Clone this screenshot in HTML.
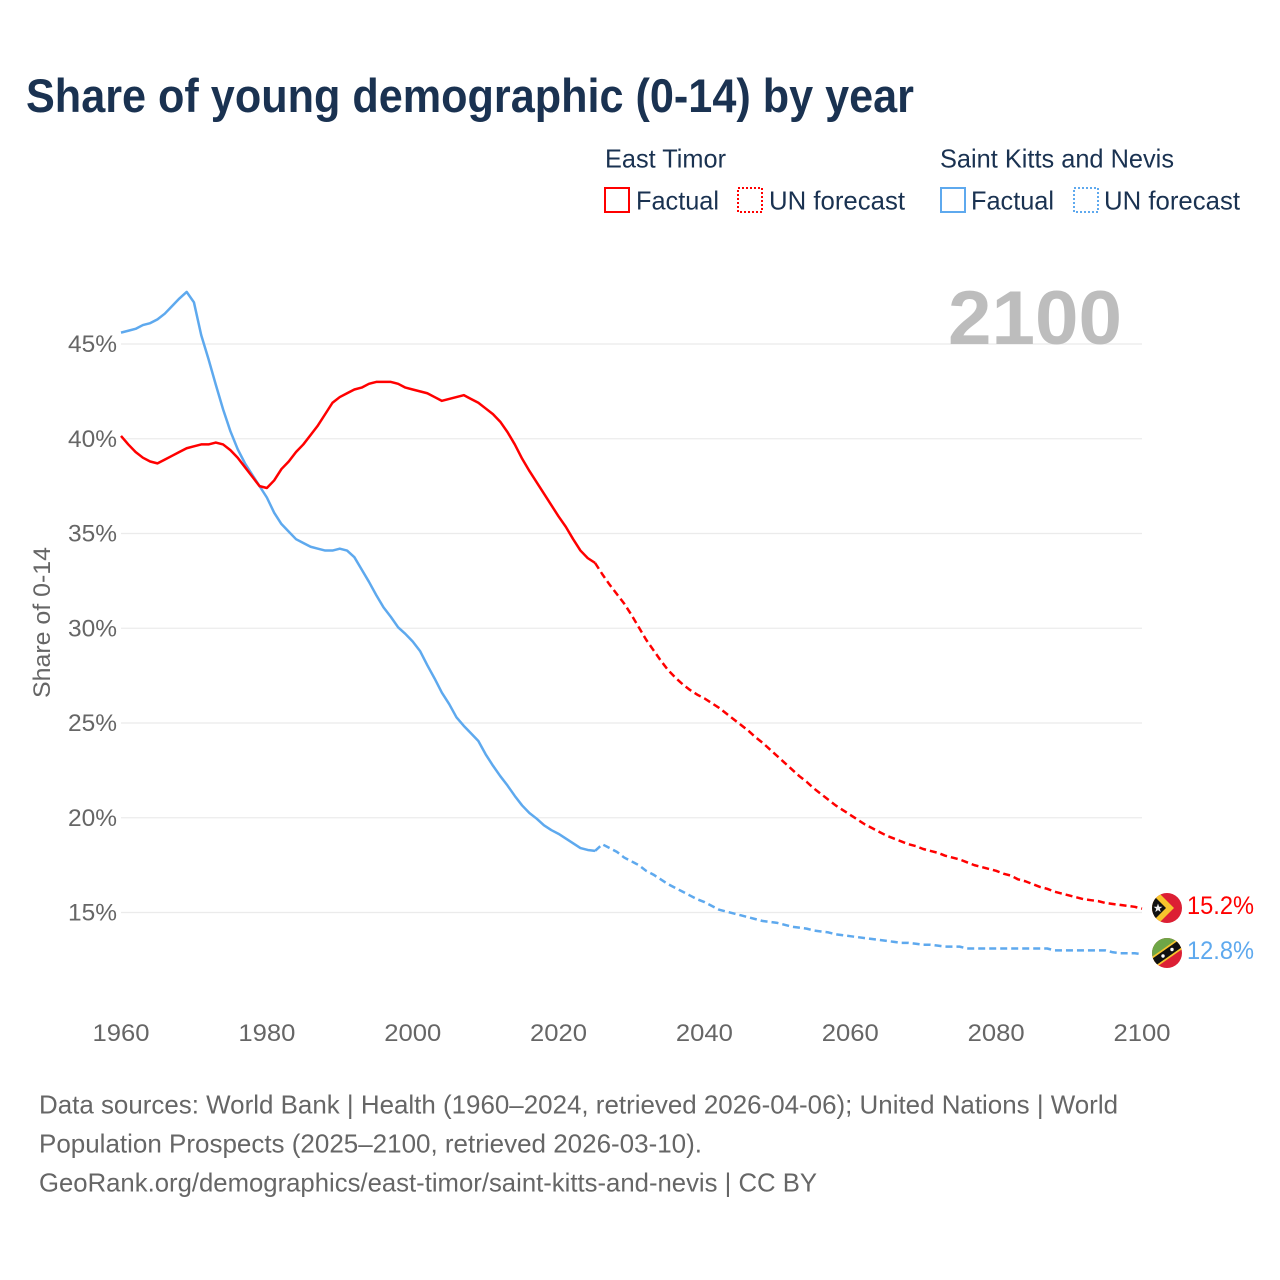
<!DOCTYPE html>
<html lang="en">
<head>
<meta charset="utf-8">
<title>Share of young demographic (0-14) by year</title>
<style>
html,body{margin:0;padding:0;background:#fff;width:1280px;height:1280px;overflow:hidden}
svg{display:block}
text{font-family:"Liberation Sans",sans-serif}
</style>
</head>
<body>
<svg id="chart" xmlns="http://www.w3.org/2000/svg" width="1280" height="1280" viewBox="0 0 1280 1280">
  <defs>
    <clipPath id="flag-clip-tl"><circle cx="1167" cy="908" r="15"/></clipPath>
    <clipPath id="flag-clip-kn"><circle cx="1167" cy="953" r="15"/></clipPath>
  </defs>
  <rect width="1280" height="1280" fill="#fff"/>
  <text x="26" y="112" font-size="47" font-weight="700" fill="#1a3251" textLength="888" lengthAdjust="spacingAndGlyphs">Share of young demographic (0-14) by year</text>

  <g font-size="26" fill="#1a3251">
    <text x="605" y="167.5" textLength="121" lengthAdjust="spacingAndGlyphs">East Timor</text>
    <text x="940" y="167.5" textLength="234" lengthAdjust="spacingAndGlyphs">Saint Kitts and Nevis</text>
    <rect x="605" y="188" width="24" height="24" fill="none" stroke="#f00" stroke-width="2"/>
    <text x="636" y="209.5" textLength="83" lengthAdjust="spacingAndGlyphs">Factual</text>
    <rect x="738" y="188" width="24" height="24" fill="none" stroke="#f00" stroke-width="2" stroke-dasharray="2 2"/>
    <text x="769" y="209.5" textLength="136" lengthAdjust="spacingAndGlyphs">UN forecast</text>
    <rect x="941" y="188" width="24" height="24" fill="none" stroke="#5ea9ee" stroke-width="2"/>
    <text x="971" y="209.5" textLength="83" lengthAdjust="spacingAndGlyphs">Factual</text>
    <rect x="1074" y="188" width="24" height="24" fill="none" stroke="#5ea9ee" stroke-width="2" stroke-dasharray="2 2"/>
    <text x="1104" y="209.5" textLength="136" lengthAdjust="spacingAndGlyphs">UN forecast</text>
  </g>

  <g id="grid"></g>
  <text x="948" y="344" font-size="76" font-weight="700" fill="#bdbdbd" textLength="174" lengthAdjust="spacingAndGlyphs">2100</text>
  <g id="y-axis" font-size="24" fill="#666"></g>
  <g id="x-axis" font-size="24" fill="#666"></g>
  <text transform="translate(50,698) rotate(-90)" font-size="24" fill="#666" textLength="151" lengthAdjust="spacingAndGlyphs">Share of 0-14</text>
  <g id="series"></g>

  <g clip-path="url(#flag-clip-tl)">
    <rect x="1152" y="893" width="30" height="30" fill="#dc1f34"/>
    <path d="M1150 884 L1174 908 L1150 932 Z" fill="#f7c52d"/>
    <path d="M1150 892 L1166 908 L1150 924 Z" fill="#111"/>
    <path d="M1158 903.5 L1159.1 906.7 L1162.4 906.8 L1159.8 908.8 L1160.7 912 L1158 910.1 L1155.3 912 L1156.2 908.8 L1153.6 906.8 L1156.9 906.7 Z" fill="#eee"/>
  </g>
  <g clip-path="url(#flag-clip-kn)">
    <rect x="1152" y="938" width="30" height="30" fill="#dc1f34"/>
    <path d="M1147 967 L1187 939 L1187 930 L1147 930 Z" fill="#6ea647"/>
    <line x1="1147" y1="967" x2="1187" y2="939" stroke="#f7c52d" stroke-width="11"/>
    <line x1="1147" y1="967" x2="1187" y2="939" stroke="#111" stroke-width="7.5"/>
    <circle cx="1163" cy="956" r="1.7" fill="#fff"/>
    <circle cx="1172" cy="949.5" r="1.7" fill="#fff"/>
  </g>
  <text x="1187" y="914" font-size="25" fill="#f00" textLength="67" lengthAdjust="spacingAndGlyphs">15.2%</text>
  <text x="1187" y="959" font-size="25" fill="#5ea9ee" textLength="67" lengthAdjust="spacingAndGlyphs">12.8%</text>

  <g font-size="26" fill="#666">
    <text x="39" y="1113.5" textLength="1079" lengthAdjust="spacingAndGlyphs">Data sources: World Bank | Health (1960–2024, retrieved 2026-04-06); United Nations | World</text>
    <text x="39" y="1152.5" textLength="663" lengthAdjust="spacingAndGlyphs">Population Prospects (2025–2100, retrieved 2026-03-10).</text>
    <text x="39" y="1191.5" textLength="778" lengthAdjust="spacingAndGlyphs">GeoRank.org/demographics/east-timor/saint-kitts-and-nevis | CC BY</text>
  </g>
</svg>
<script>
const xTicks = [1960, 1980, 2000, 2020, 2040, 2060, 2080, 2100];
const yTicks = [15, 20, 25, 30, 35, 40, 45];
const factualStartYear = 1960;
const forecastStartYear = 2025;
const eastTimorFactual = [40.15,39.7,39.3,39.0,38.8,38.7,38.9,39.1,39.3,39.5,39.6,39.7,39.7,39.8,39.7,39.4,39.0,38.5,38.0,37.5,37.4,37.8,38.4,38.8,39.3,39.7,40.2,40.7,41.3,41.9,42.2,42.4,42.6,42.7,42.9,43.0,43.0,43.0,42.9,42.7,42.6,42.5,42.4,42.2,42.0,42.1,42.2,42.3,42.1,41.9,41.6,41.3,40.9,40.35,39.7,38.95,38.3,37.7,37.1,36.5,35.9,35.35,34.7,34.1,33.7,33.45];
const eastTimorForecast = [33.45,32.85,32.3,31.8,31.3,30.7,30.05,29.4,28.85,28.3,27.8,27.4,27.05,26.75,26.5,26.3,26.05,25.8,25.5,25.2,24.9,24.6,24.25,23.95,23.6,23.25,22.9,22.55,22.2,21.9,21.55,21.25,20.95,20.65,20.4,20.15,19.9,19.65,19.45,19.25,19.05,18.9,18.75,18.6,18.5,18.35,18.25,18.15,18.0,17.9,17.8,17.65,17.5,17.4,17.3,17.2,17.05,16.95,16.75,16.65,16.5,16.35,16.25,16.1,16.0,15.9,15.8,15.7,15.65,15.6,15.5,15.45,15.4,15.35,15.3,15.2];
const saintKittsFactual = [45.6,45.7,45.8,46.0,46.1,46.3,46.6,47.0,47.4,47.75,47.2,45.47,44.2,42.85,41.55,40.4,39.45,38.7,38.1,37.5,36.9,36.1,35.5,35.1,34.7,34.5,34.3,34.2,34.1,34.1,34.2,34.1,33.75,33.1,32.45,31.75,31.1,30.6,30.05,29.7,29.3,28.8,28.05,27.35,26.6,26.0,25.3,24.85,24.45,24.05,23.35,22.75,22.2,21.7,21.15,20.65,20.25,19.95,19.6,19.35,19.15,18.9,18.65,18.4,18.3,18.25];
const saintKittsForecast = [18.25,18.6,18.4,18.2,17.9,17.7,17.5,17.2,17.0,16.75,16.5,16.3,16.1,15.9,15.7,15.55,15.35,15.15,15.05,14.95,14.85,14.75,14.65,14.55,14.5,14.45,14.35,14.25,14.2,14.15,14.05,14.0,13.95,13.85,13.8,13.75,13.7,13.65,13.6,13.55,13.5,13.45,13.4,13.4,13.35,13.3,13.3,13.25,13.2,13.2,13.2,13.1,13.1,13.1,13.1,13.1,13.1,13.1,13.1,13.1,13.1,13.1,13.1,13.0,13.0,13.0,13.0,13.0,13.0,13.0,13.0,12.9,12.85,12.85,12.85,12.8];

const SVG_NS = 'http://www.w3.org/2000/svg';
function xScale(year) { return 121 + (year - 1960) * (1142 - 121) / 140; }
function yScale(value) { return 912.5 - (value - 15) * 18.95; }
function pathFrom(values, startYear) {
  return values.map(function (v, i) {
    return (i ? 'L' : 'M') + xScale(startYear + i).toFixed(2) + ' ' + yScale(v).toFixed(2);
  }).join(' ');
}

const grid = document.getElementById('grid');
const yAxis = document.getElementById('y-axis');
const xAxis = document.getElementById('x-axis');
const seriesGroup = document.getElementById('series');

yTicks.forEach(function (t) {
  const line = document.createElementNS(SVG_NS, 'line');
  
  
  line.setAttribute('x1', xScale(1960));
  line.setAttribute('x2', xScale(2100));
  line.setAttribute('y1', yScale(t));
  line.setAttribute('y2', yScale(t));
  line.setAttribute('stroke', '#ebebeb');
  line.setAttribute('stroke-width', '1.3');
  grid.appendChild(line);
  const label = document.createElementNS(SVG_NS, 'text');
  
  
  label.setAttribute('x', 68);
  label.setAttribute('y', yScale(t) + 8);
  label.setAttribute('textLength', 49);
  label.setAttribute('lengthAdjust', 'spacingAndGlyphs');
  label.textContent = t + '%';
  yAxis.appendChild(label);
});

xTicks.forEach(function (t) {
  const label = document.createElementNS(SVG_NS, 'text');
  
  
  label.setAttribute('x', xScale(t) - 28.5);
  label.setAttribute('y', 1041);
  label.setAttribute('textLength', 57);
  label.setAttribute('lengthAdjust', 'spacingAndGlyphs');
  label.textContent = String(t);
  xAxis.appendChild(label);
});

function addSeries(name, values, startYear, color, dashed) {
  const p = document.createElementNS(SVG_NS, 'path');
  
  
  p.setAttribute('d', pathFrom(values, startYear));
  p.setAttribute('fill', 'none');
  p.setAttribute('stroke', color);
  p.setAttribute('stroke-width', '2.5');
  p.setAttribute('stroke-linejoin', 'round');
  if (dashed) p.setAttribute('stroke-dasharray', '7 4');
  seriesGroup.appendChild(p);
}
addSeries('line-saint-kitts-factual', saintKittsFactual, factualStartYear, '#5ea9ee', false);
addSeries('line-saint-kitts-forecast', saintKittsForecast, forecastStartYear, '#5ea9ee', true);
addSeries('line-east-timor-factual', eastTimorFactual, factualStartYear, '#ff0000', false);
addSeries('line-east-timor-forecast', eastTimorForecast, forecastStartYear, '#ff0000', true);
</script>
</body>
</html>
